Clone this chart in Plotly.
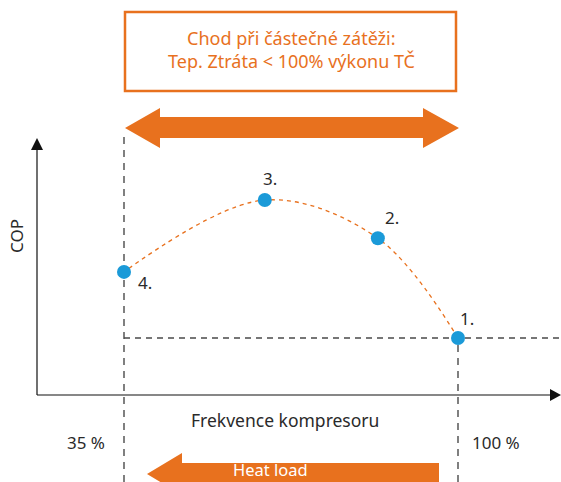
import plotly.graph_objects as go

# ---- data ----
point_labels = ["1.", "2.", "3.", "4."]
freq_pct = [100, 84.4, 62.4, 35]          # compressor frequency (%)
cop = [1.00, 2.75, 3.42, 2.16]            # COP (relative units)
tick_labels = ["35 %", "100 %"]
tick_vals = [35, 100]

W, H = 561, 482
ORANGE = "#E8711E"
BLUE = "#1B9AD8"
DARK = "#2a2a2a"
GRAY = "#4a4a4a"
FONT = "Noto Sans"

# axis ranges so that 35% -> px 124, 100% -> px 458 ; COP 0 -> px 395, 57 px per unit
pxpp = (458 - 124) / 65.0
x0 = 35 - 124 / pxpp
x1 = 35 + (W - 124) / pxpp
pyu = 57.0
y0 = (395 - H) / pyu
y1 = 395 / pyu

def px(x):
    return x / W

def py(y):
    return 1 - y / H

fig = go.Figure()

# dashed curve
fig.add_trace(go.Scatter(
    x=freq_pct, y=cop, mode="lines",
    line=dict(color=ORANGE, width=1.3, dash="4px,4px", shape="spline", smoothing=1.0),
    hoverinfo="skip", showlegend=False))

# points
fig.add_trace(go.Scatter(
    x=freq_pct, y=cop, mode="markers",
    marker=dict(color=BLUE, size=14, line=dict(width=0)),
    showlegend=False))

shapes = []
# horizontal dashed at COP of point 1
shapes.append(dict(type="line", xref="x", yref="y", x0=tick_vals[0], x1=x1,
                   y0=cop[0], y1=cop[0], line=dict(color=GRAY, width=1.4, dash="6px,5px"), layer="below"))
# vertical dashed lines
shapes.append(dict(type="line", xref="x", yref="paper", x0=tick_vals[0], x1=tick_vals[0],
                   y0=0, y1=py(137), line=dict(color=GRAY, width=1.4, dash="7px,6px"), layer="below"))
shapes.append(dict(type="line", xref="x", yref="y", x0=tick_vals[1], x1=tick_vals[1],
                   y0=y0, y1=cop[0], line=dict(color=GRAY, width=1.4, dash="7px,6px"), layer="below"))

# axes lines
shapes.append(dict(type="line", xref="paper", yref="paper", x0=px(37), x1=px(37), y0=py(395), y1=py(146),
                   line=dict(color="#111", width=1.2)))
shapes.append(dict(type="line", xref="paper", yref="paper", x0=px(37), x1=px(552), y0=py(395), y1=py(395),
                   line=dict(color="#111", width=1.2)))
def path(points):
    return "M " + " L ".join(f"{px(a):.5f},{py(b):.5f}" for a, b in points) + " Z"
shapes.append(dict(type="path", xref="paper", yref="paper",
                   path=path([(37, 138), (31, 150), (43, 150)]), fillcolor="#111", line=dict(width=0)))
shapes.append(dict(type="path", xref="paper", yref="paper",
                   path=path([(561, 395), (550, 389), (550, 401)]), fillcolor="#111", line=dict(width=0)))

# top box
shapes.append(dict(type="rect", xref="paper", yref="paper", x0=px(125), x1=px(456), y0=py(91), y1=py(12),
                   line=dict(color=ORANGE, width=2.5), fillcolor="white"))

# double arrow
shapes.append(dict(type="path", xref="paper", yref="paper", path=path([
    (125, 128), (160, 108), (160, 117), (423, 117), (423, 108), (459, 128),
    (423, 148), (423, 138), (160, 138), (160, 148)]), fillcolor=ORANGE, line=dict(width=0)))

# heat load arrow
shapes.append(dict(type="path", xref="paper", yref="paper", path=path([
    (147, 474), (182, 453), (182, 463), (439, 463), (439, 485), (182, 485), (182, 495)]),
    fillcolor=ORANGE, line=dict(width=0)))

annotations = []
def txt(x, y, s, size=17, color=DARK, angle=0):
    annotations.append(dict(x=px(x), y=py(y), xref="paper", yref="paper", text=s, showarrow=False,
                            font=dict(family=FONT, size=size, color=color), textangle=angle,
                            xanchor="center", yanchor="middle"))

txt(291, 38, "Chod při částečné zátěži:", 18, ORANGE)
txt(291, 61, "Tep. Ztráta < 100% výkonu TČ", 18, ORANGE)
txt(16, 236, "COP", 17, DARK, -90)
txt(285, 420, "Frekvence kompresoru", 17.5)
txt(86, 442, tick_labels[0], 17)
txt(496, 442, tick_labels[1], 17)
txt(270, 469, "Heat load", 16.5, "white")

# point labels (offsets in pixels)
offsets = {"1.": (9, -20), "2.": (14, -21), "3.": (5, -22), "4.": (21, 11)}
for lab, f, c in zip(point_labels, freq_pct, cop):
    dx, dy = offsets[lab]
    annotations.append(dict(x=f, y=c, xref="x", yref="y", text=lab, showarrow=False,
                            xshift=dx, yshift=-dy, font=dict(family=FONT, size=17, color=DARK),
                            xanchor="center", yanchor="middle"))

fig.update_layout(
    width=W, height=H, margin=dict(l=0, r=0, t=0, b=0),
    paper_bgcolor="white", plot_bgcolor="white",
    xaxis=dict(range=[x0, x1], visible=False, fixedrange=True),
    yaxis=dict(range=[y0, y1], visible=False, fixedrange=True),
    shapes=shapes, annotations=annotations, showlegend=False,
)
fig.write_html("out.html", config={"displayModeBar": False},
               post_script="document.body.style.margin='0';document.body.style.overflow='hidden';")
